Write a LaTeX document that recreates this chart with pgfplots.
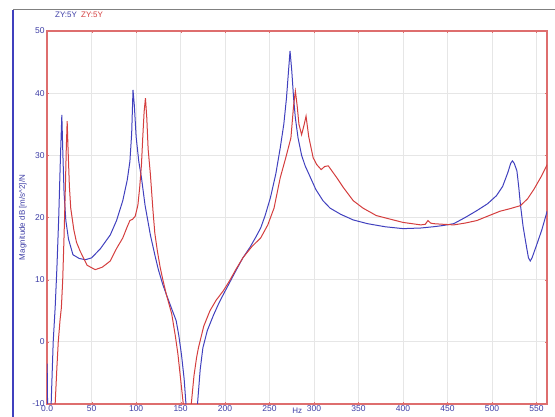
\documentclass[border=0pt]{standalone}
\usepackage{fontspec}
\setmainfont{Liberation Sans}
\usepackage{pgfplots}
\pgfplotsset{compat=1.18}
\definecolor{cblue}{RGB}{64,64,190}
\definecolor{cred}{RGB}{212,62,62}
\definecolor{frame}{RGB}{222,110,110}
\definecolor{txt}{RGB}{60,60,165}
\definecolor{gridc}{RGB}{230,230,230}

\begin{document}
\begin{tikzpicture}[x=1pt,y=1pt]
\useasboundingbox (0,0) rectangle (555,417);
% window border
\draw[cblue, line width=1.2pt] (13,0) -- (13,407);
\draw[gray, line width=1pt] (13,407) -- (555,407);
\node[anchor=west, inner sep=0pt, font=\fontsize{8}{9}\selectfont, text=txt] at (55,402) {ZY:5Y};
\node[anchor=west, inner sep=0pt, font=\fontsize{8}{9}\selectfont, text=cred] at (81,402) {ZY:5Y};
\begin{axis}[
  at={(53,21)}, anchor=south west,
  scale only axis, width=500pt, height=373pt,
  xmin=0, xmax=562, ymin=-10, ymax=50,
  xtick={0,50,...,550},
  xticklabels={0.0,50,100,150,200,250,300,350,400,450,500,550},
  ytick={-10,0,...,50},
  grid=major, grid style={gridc, line width=0.8pt},
  axis line style={frame, line width=1.4pt},
  major tick length=2pt, tick style={frame},
  tick label style={font=\fontsize{8.5}{9}\selectfont, text=txt},
  yticklabel style={xshift=1pt},
  xticklabel style={yshift=2pt},
  /pgf/number format/assume math mode=true,
  xlabel={Hz}, xlabel style={font=\fontsize{8}{9}\selectfont, text=txt, yshift=10pt},
  ylabel={Magnitude dB [m/s\textasciicircum 2]/N},
  ylabel style={font=\fontsize{8}{9}\selectfont, text=txt, at={(rel axis cs:0,0.5)}, anchor=south, yshift=17pt},
  clip=true,
]
\addplot[cblue, line width=1pt] coordinates {
(0,-3.5) (0.6,-12) (4,-12) (4.5,-10) (6.8,0) (9,5.5) (11,12) (13,20) (15,30) (16.5,36.5) (17.5,31) (19,24) (21,19.5) (24,16.5) (29,14) (36,13.4) (43,13.2) (50,13.5) (60,15) (71,17.2) (78,19.5) (85,22.7) (90,26) (93,29) (95,33.5) (96.5,40.5) (98,38) (100,33) (103,29) (106,26.4) (110,22) (116,17.2) (121,14) (125,11.6) (130,9.2) (134,7.6) (140,5.3) (145,3.4) (148,1) (151,-2.1) (154,-6) (156,-10) (157,-14) (168,-14) (169,-10) (172,-4.5) (175,-1) (180,1.8) (187,4.3) (193,6.2) (198,7.6) (205,9.5) (212,11.4) (220,13.5) (228,15.2) (234,16.7) (240,18.3) (245,20.3) (251,23.2) (257,27) (262,31.2) (266,35) (269,39.2) (271,43) (273,46.8) (275,43.5) (277,39.2) (279,36) (282,32.8) (286,30) (290,28.3) (296,26.4) (302,24.5) (310,22.7) (318,21.5) (330,20.5) (344,19.6) (360,19) (380,18.5) (400,18.2) (420,18.3) (434,18.5) (445,18.7) (457,19) (470,20) (483,21.1) (495,22.2) (505,23.5) (512,25) (518,27.3) (521,28.7) (523,29.1) (525,28.7) (528,27.5) (530,25) (532,22) (535,18.5) (539,15.1) (541,13.5) (543,13) (545,13.5) (550,15.5) (556,18) (562,21)
};
\addplot[cred, line width=1pt] coordinates {
(0,-20) (8,-12) (9,-10) (11,-4) (12.5,0) (14.5,3.5) (16,5.5) (17.5,10) (19,17) (20.5,25) (21.5,31) (22.5,35.5) (23.5,31) (25,25) (26.5,21.5) (30,18) (33,16) (37,14.6) (45,12.3) (54,11.6) (62,12) (71,13) (78,15) (85,16.7) (90,18.5) (93,19.5) (96,19.7) (99,20.2) (102,22) (104,24.8) (106,28.5) (107.5,33) (109,37) (110.5,39.2) (112,36) (113.5,31) (116,27) (119,21) (121,17.5) (124,14.5) (127,12) (130,10) (134,7.6) (140,4.5) (144,1) (147,-2) (150,-6) (153,-10) (154,-14) (161,-14) (162,-10) (165,-5.5) (168,-2.5) (170,-1) (176,2.5) (183,5) (190,6.7) (198,8.2) (205,9.8) (212,11.6) (220,13.5) (230,15.3) (240,16.7) (248,18.8) (255,21.5) (262,26.4) (268,29.5) (274,32.8) (277,38) (279,40.3) (281,38) (283,35) (286,33.3) (289,35) (291,36.3) (294,33) (299,29.6) (303,28.5) (308,27.7) (312,28.2) (316,28.3) (320,27.5) (326,26.3) (333,24.8) (344,22.7) (355,21.5) (370,20.3) (389,19.6) (400,19.2) (410,19) (420,18.8) (425,18.9) (428,19.5) (431,19.1) (434,19) (445,18.9) (457,18.8) (470,19.1) (483,19.5) (495,20.2) (509,21) (520,21.4) (532,21.9) (540,23) (547,24.5) (555,26.5) (562,28.5)
};
\end{axis}
\end{tikzpicture}
\end{document}
